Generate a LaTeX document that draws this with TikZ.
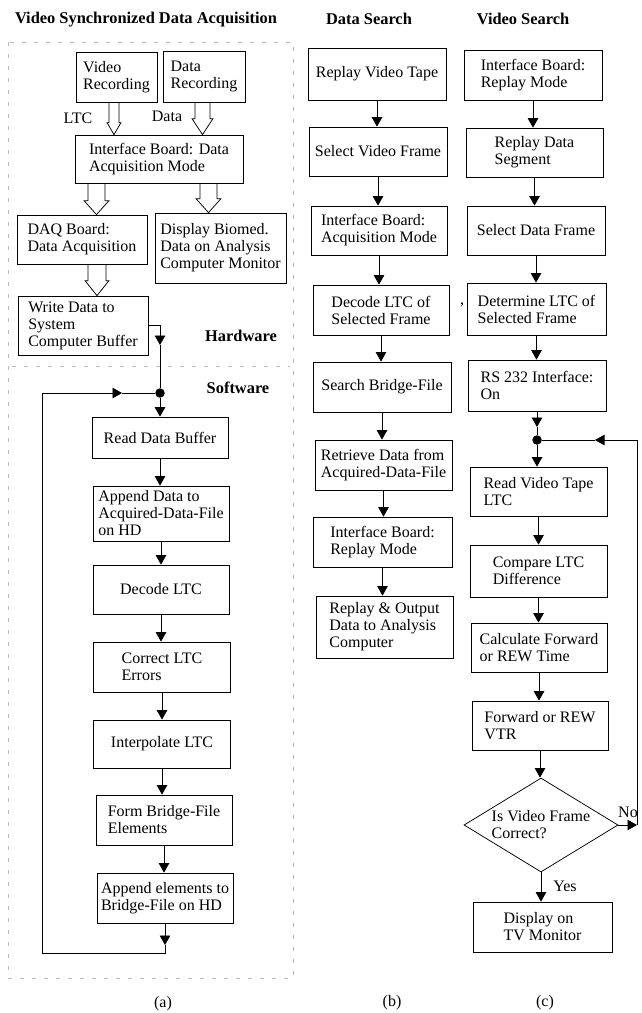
\documentclass[tikz,border=0pt]{standalone}
\usepackage{fontspec}
\setmainfont{Liberation Serif}
\usetikzlibrary{arrows.meta,shapes.geometric,calc}
\tikzset{
 box/.style={draw, line width=0.75pt, inner sep=2pt, align=left, font=\fontsize{16}{17}\selectfont},
 lbl/.style={font=\fontsize{16}{17}\selectfont, inner sep=0},
 ttl/.style={font=\fontsize{16.4}{18}\selectfont\bfseries, inner sep=0},
 arr/.style={line width=0.75pt, -{Triangle[length=9.5pt,width=10.5pt]}},
 ln/.style={line width=0.75pt},
 hollow/.style={line width=0.75pt},
 frame/.style={gray!55, line width=0.6pt, dash pattern=on 4pt off 8pt},
 jdot/.style={circle, fill, inner sep=0, minimum size=9.5pt},
}
\newcommand\hollowarr[6]{%
 \draw[hollow] let \p1=(#2.south), \p2=(#3.north) in
 ({#1pt-#4pt},\y1) -- ({#1pt-#4pt},{\y2+#6pt}) -- ({#1pt-#5pt},{\y2+#6pt}) -- (#1pt,\y2)
 -- ({#1pt+#5pt},{\y2+#6pt}) -- ({#1pt+#4pt},{\y2+#6pt}) -- ({#1pt+#4pt},\y1);}
\begin{document}
\begin{tikzpicture}[x=1pt,y=-1pt]
\useasboundingbox (0,0) rectangle (641,1013);
% titles
\node[ttl] (ta) at (146,20) {Video Synchronized Data Acquisition};
\node[ttl] (tb) at (369,19) {Data Search};
\node[ttl] (tc) at (523,19) {Video Search};
% frame (a)
\draw[frame] (8,42) rectangle (293,978);
\draw[frame] (12,366) -- (290,366);
\node[ttl] (hw) at (241,336) {Hardware};
\node[ttl] (sw) at (238,388) {Software};
% column (a) hardware
\node[box, minimum width=81, minimum height=50] (vid) at (116.5,77) {Video\\Recording};
\node[box, minimum width=82, minimum height=51] (datrec) at (204,76.5) {Data\\Recording};
\node[box, minimum width=168, minimum height=48] (iface) at (159,159) {Interface Board: Data\\Acquisition Mode};
\node[box, minimum width=130, minimum height=49] (daq) at (82,239.5) {DAQ Board:\\Data Acquisition};
\node[box, minimum width=131, minimum height=70] (disp) at (220.5,248) {Display Biomed.\\Data on Analysis\\Computer Monitor};
\node[box, minimum width=130, minimum height=59] (write) at (83,325.5) {Write Data to\\System\\Computer Buffer};
\node[lbl] (ltc) at (78,118) {LTC};
\node[lbl] (dlab) at (167,116) {Data};
\hollowarr{114}{vid}{iface}{5}{7}{12}
\hollowarr{202.5}{datrec}{iface}{7.5}{10.5}{16}
\hollowarr{96.5}{iface}{daq}{8.5}{12.5}{14}
\hollowarr{208.5}{iface}{disp}{8.5}{12.5}{14}
\hollowarr{97}{daq}{write}{9}{12}{15}
% column (a) software
\node[box, minimum width=136, minimum height=41] (read) at (160,437.5) {Read Data Buffer};
\node[box, minimum width=136, minimum height=55] (appd) at (161,513.5) {Append Data to\\Acquired-Data-File\\on HD};
\node[box, minimum width=136, minimum height=49] (dec) at (161,589.5) {Decode LTC};
\node[box, minimum width=137, minimum height=50] (corr) at (162,667) {Correct LTC\\Errors};
\node[box, minimum width=137, minimum height=48] (interp) at (162,744) {Interpolate LTC};
\node[box, minimum width=136, minimum height=50] (form) at (164,820) {Form Bridge-File\\Elements};
\node[box, minimum width=136, minimum height=50] (appe) at (165,898) {Append elements to\\Bridge-File on HD};
\node[jdot] (dota) at (160,393) {};
\coordinate (wm) at (160,345);
\draw[arr] (write.east) -| (wm);
\draw[ln] (wm) -- (dota);
\draw[arr] (dota) -- (dota |- read.north);
\draw[arr] (read.south) -- (read.south |- appd.north);
\draw[arr] (appd.south) -- (appd.south |- dec.north);
\draw[arr] (dec.south) -- (dec.south |- corr.north);
\draw[arr] (corr.south) -- (corr.south |- interp.north);
\draw[arr] (interp.south) -- (interp.south |- form.north);
\draw[arr] (form.south) -- (form.south |- appe.north);
\coordinate (lbm) at (165,945);
\coordinate (ltl) at (42,953);
\coordinate (lta) at (122,393);
\draw[arr] (appe.south) -- (appe.south |- lbm);
\draw[arr] (appe.south |- lbm) |- (ltl) |- (lta);
\draw[ln] (lta) -- (dota);
\node[lbl] (capa) at (163,1004) {(a)};
% column (b)
\node[box, minimum width=138, minimum height=52] (rvt) at (377,74) {Replay Video Tape};
\node[box, minimum width=138, minimum height=49] (svf) at (378,151.5) {Select Video Frame};
\node[box, minimum width=136, minimum height=49] (ibam) at (379,230.5) {Interface Board:\\Acquisition Mode};
\node[box, minimum width=136, minimum height=50] (dltc) at (381,310) {Decode LTC of\\Selected Frame};
\node[box, minimum width=138, minimum height=50] (sbf) at (382,387) {Search Bridge-File};
\node[box, minimum width=137, minimum height=50] (rdf) at (383.5,465) {Retrieve Data from\\Acquired-Data-File};
\node[box, minimum width=139, minimum height=50] (ibrm) at (382.5,542) {Interface Board:\\Replay Mode};
\node[box, minimum width=137, minimum height=62] (rod) at (384.5,627) {Replay \& Output\\Data to Analysis\\Computer};
\draw[arr] (rvt.south) -- (rvt.south |- svf.north);
\draw[arr] (svf.south) -- (svf.south |- ibam.north);
\draw[arr] (ibam.south) -- (ibam.south |- dltc.north);
\draw[arr] (dltc.south) -- (dltc.south |- sbf.north);
\draw[arr] (sbf.south) -- (sbf.south |- rdf.north);
\draw[arr] (rdf.south) -- (rdf.south |- ibrm.north);
\draw[arr] (ibrm.south) -- (ibrm.south |- rod.north);
\node[lbl] (comma) at (462,305) {,};
\node[lbl] (capb) at (392,1003) {(b)};
% column (c)
\node[box, minimum width=138, minimum height=50] (ibrp) at (533,75) {Interface Board:\\Replay Mode};
\node[box, minimum width=137, minimum height=49] (rds) at (534.5,152.5) {Replay Data\\Segment};
\node[box, minimum width=138, minimum height=49] (sdf) at (536,230.5) {Select Data Frame};
\node[box, minimum width=139, minimum height=52] (dtm) at (536.5,309) {Determine LTC of\\Selected Frame};
\node[box, minimum width=138, minimum height=51] (rs) at (537,385.5) {RS 232 Interface:\\On};
\node[box, minimum width=137, minimum height=49] (rvl) at (538.5,491.5) {Read Video Tape\\LTC};
\node[box, minimum width=137, minimum height=52] (cmp) at (538.5,571) {Compare LTC\\Difference};
\node[box, minimum width=136, minimum height=49] (calc) at (539,647.5) {Calculate Forward\\or REW Time};
\node[box, minimum width=136, minimum height=49] (fwd) at (540,725.5) {Forward or REW\\VTR};
\node[box, diamond, shape aspect=1.64, inner sep=0, minimum width=154, minimum height=94] (dia) at (541,825) {Is Video Frame\\Correct?};
\node[box, minimum width=139, minimum height=50] (disp2) at (542.5,927) {Display on\\TV Monitor};
\draw[arr] (ibrp.south) -- (ibrp.south |- rds.north);
\draw[arr] (rds.south) -- (rds.south |- sdf.north);
\draw[arr] (sdf.south) -- (sdf.south |- dtm.north);
\draw[arr] (dtm.south) -- (dtm.south |- rs.north);
\node[jdot] (dotc) at (537,440) {};
\coordinate (rsm) at (537,427);
\draw[arr] (rs.south) -- (rsm);
\draw[ln] (rsm) -- (dotc);
\draw[arr] (dotc) -- (dotc |- rvl.north);
\draw[arr] (rvl.south) -- (rvl.south |- cmp.north);
\draw[arr] (cmp.south) -- (cmp.south |- calc.north);
\draw[arr] (calc.south) -- (calc.south |- fwd.north);
\draw[arr] (fwd.south) -- (fwd.south |- dia.north);
\coordinate (rtop) at (637,440);
\coordinate (nl) at (595,440);
\draw[arr] (dia.east) -- (dia.east -| rtop);
\draw[arr] (dia.east -| rtop) |- (nl);
\draw[ln] (nl) -- (dotc);
\draw[arr] (dia.south) -- (dia.south |- disp2.north);
\node[lbl] (no) at (628,812) {No};
\node[lbl] (yes) at (565,886) {Yes};
\node[lbl] (capc) at (545,1003) {(c)};
\end{tikzpicture}
\end{document}
